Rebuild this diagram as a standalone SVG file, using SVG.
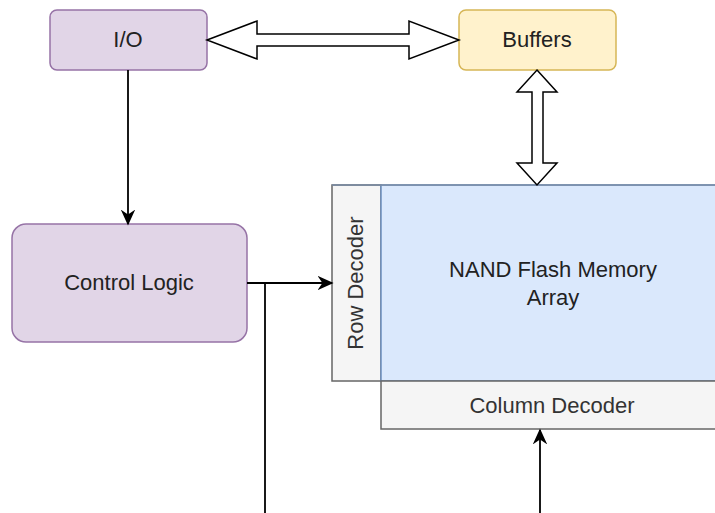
<svg xmlns="http://www.w3.org/2000/svg" width="715" height="513" viewBox="0 0 715 513">
<defs>
<style>
.t{font-family:"Liberation Sans",Arial,sans-serif;font-size:22px;text-anchor:middle;fill:#222222}
.g{fill:#333333}
.ln{fill:none;stroke:#000;stroke-width:1.8}
.flat{fill:#fff;stroke:#000;stroke-width:1.5;stroke-linejoin:miter}
.dec{fill:#f5f5f5;stroke:#666666;stroke-width:1.5}
</style>
<marker id="ah" viewBox="0 0 10 10" refX="9" refY="5" markerWidth="16" markerHeight="16" markerUnits="userSpaceOnUse" orient="auto">
<path d="M0,0.5 L10,5 L0,9.5 L3,5 Z" fill="#000"/>
</marker>
</defs>
<rect width="715" height="513" fill="#fff"/>
<g id="io">
<rect x="50" y="10" width="157" height="60" rx="7" fill="#e1d5e7" stroke="#9673a6" stroke-width="1.5"/>
<text class="t" x="128" y="47">I/O</text>
</g>
<g id="buffers">
<rect x="459" y="10" width="157" height="60" rx="7" fill="#fff2cc" stroke="#d6b656" stroke-width="1.5"/>
<text class="t" x="537" y="47">Buffers</text>
</g>
<g id="control-logic">
<rect x="12" y="224" width="235" height="118" rx="14" fill="#e1d5e7" stroke="#9673a6" stroke-width="1.5"/>
<text class="t" x="129" y="290">Control Logic</text>
</g>
<g id="memory">
<rect class="dec" x="332" y="185" width="49" height="196"/>
<text class="t g" transform="translate(363,283) rotate(-90)">Row Decoder</text>
<rect x="381" y="185" width="345" height="196" fill="#dae8fc" stroke="#6c8ebf" stroke-width="1.5"/>
<line x1="332" y1="185" x2="715" y2="185" stroke="#7a8ca6" stroke-width="1.5"/>
<text class="t" x="553" y="277">NAND Flash Memory</text>
<text class="t" x="553" y="305">Array</text>
<rect class="dec" x="381" y="381" width="345" height="48"/>
<text class="t g" x="552" y="413">Column Decoder</text>
</g>
<g id="connectors">
<polygon class="flat" points="207,40 257,21 257,34 409,34 409,21 459,40 409,59 409,46 257,46 257,59"/>
<polygon class="flat" points="537,70 557,92 543,92 543,163 557,163 537,185 517,163 532,163 532,92 517,92"/>
<line class="ln" x1="128" y1="70" x2="128" y2="224" marker-end="url(#ah)"/>
<line class="ln" x1="247" y1="283" x2="332" y2="283" marker-end="url(#ah)"/>
<line class="ln" x1="265" y1="283" x2="265" y2="513"/>
<line class="ln" x1="540" y1="513" x2="540" y2="430" marker-end="url(#ah)"/>
</g>
</svg>
